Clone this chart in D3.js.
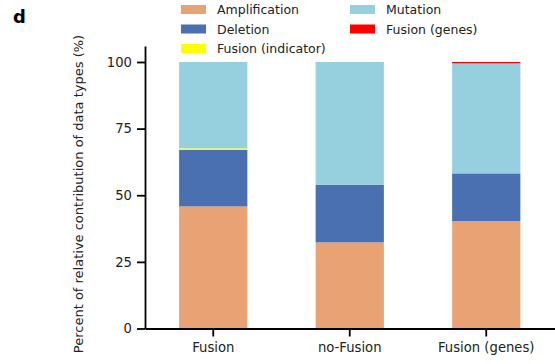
<!DOCTYPE html>
<html><head><meta charset="utf-8">
<script src="https://cdn.jsdelivr.net/npm/d3@7"></script>
<style>body{margin:0;background:#fff}svg{display:block}text{font-family:"DejaVu Sans",sans-serif}</style>
</head><body>
<svg id="c" width="555" height="364"></svg>
<script>
const categories = ["Fusion", "no-Fusion", "Fusion (genes)"];
const seriesNames = ["Amplification", "Deletion", "Fusion (indicator)", "Mutation", "Fusion (genes)"];
const amplification = [45.8, 32.3, 40.3];
const deletion = [21.2, 21.6, 17.9];
const fusionIndicator = [0.6, 0, 0];
const mutation = [32.4, 46.1, 41.3];
const fusionGenes = [0, 0, 0.5];
const colors = ["#E9A274", "#4A70B1", "#FFFF00", "#96CFDD", "#FF0000"];
const yTicks = [0, 25, 50, 75, 100];
const yLabel = "Percent of relative contribution of data types (%)";

const rows = categories.map((c, i) => ({
  cat: c,
  "Amplification": amplification[i],
  "Deletion": deletion[i],
  "Fusion (indicator)": fusionIndicator[i],
  "Mutation": mutation[i],
  "Fusion (genes)": fusionGenes[i]
}));
const stacked = d3.stack().keys(seriesNames)(rows);

const svg = d3.select("#c");
const x = d3.scaleBand().domain(categories).range([145, 554.5]).paddingInner(0.5).paddingOuter(0.25);
const y = d3.scaleLinear().domain([0, 106]).range([328.5, 46]);

svg.append("g").selectAll("g").data(stacked).join("g")
  .attr("fill", (d, i) => colors[i])
  .selectAll("rect").data(d => d).join("rect")
  .attr("x", d => x(d.data.cat))
  .attr("width", x.bandwidth())
  .attr("y", d => y(d[1]))
  .attr("height", d => Math.max(0, y(d[0]) - y(d[1])));

const yAxis = svg.append("g").attr("transform", "translate(145,0)")
  .call(d3.axisLeft(y).tickValues(yTicks).tickSize(8).tickPadding(5).tickSizeOuter(0));
yAxis.select(".domain").attr("stroke", "#000").attr("stroke-width", 1.8);
yAxis.selectAll(".tick line").attr("stroke-width", 1.8);
yAxis.selectAll("text").attr("font-size", 13.2).attr("fill", "#222");

const xAxis = svg.append("g").attr("transform", "translate(0,328.5)")
  .call(d3.axisBottom(x).tickSize(8).tickPadding(6).tickSizeOuter(0));
xAxis.select(".domain").attr("stroke", "#000").attr("stroke-width", 1.8);
xAxis.selectAll(".tick line").attr("stroke-width", 1.8);
xAxis.selectAll("text").attr("font-size", 13.2).attr("fill", "#222");

svg.append("text").attr("transform", "translate(83,194) rotate(-90)")
  .attr("text-anchor", "middle").attr("font-size", 13).attr("fill", "#222").text(yLabel);

svg.append("text").attr("x", 13).attr("y", 23).attr("font-size", 18).attr("font-weight", "bold").text("d");

// legend
const legPos = [[181, 5], [181, 24.5], [181, 44], [350, 5], [350, 24.5]];
const order = [0, 1, 2, 3, 4];
const leg = svg.append("g");
order.forEach((si, k) => {
  const [lx, ly] = legPos[k];
  leg.append("rect").attr("x", lx).attr("y", ly).attr("width", 25).attr("height", 9).attr("fill", colors[si]);
  leg.append("text").attr("x", lx + 36).attr("y", ly + 9).attr("font-size", 12.5).attr("fill", "#222").text(seriesNames[si]);
});
</script>
</body></html>
